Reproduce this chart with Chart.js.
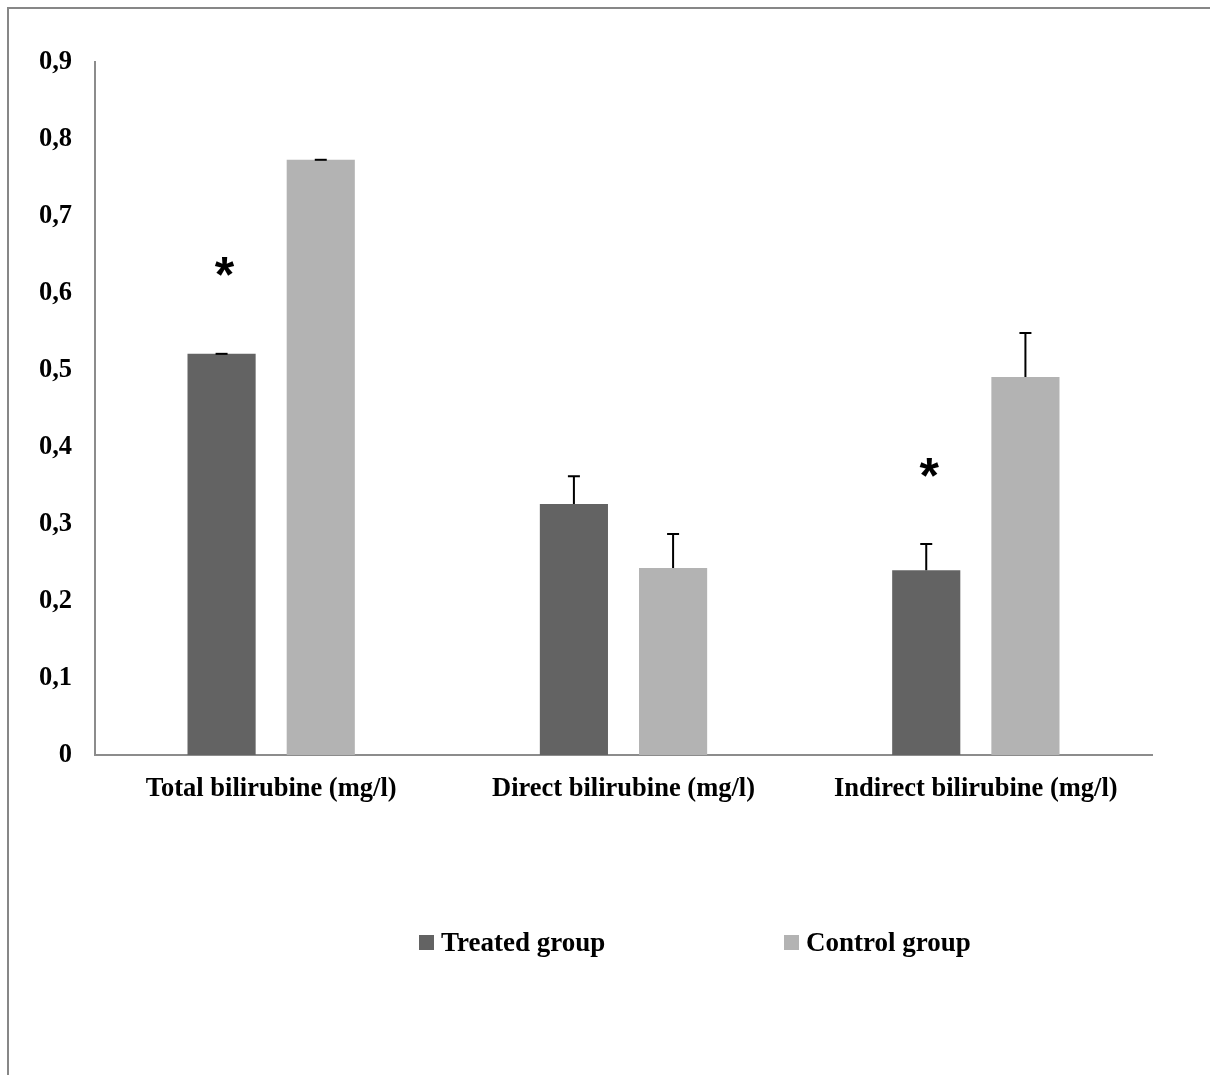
<!DOCTYPE html>
<html>
<head>
<meta charset="utf-8">
<script src="https://cdn.jsdelivr.net/npm/chart.js@4.4.1/dist/chart.umd.min.js"></script>
<style>
  html, body { margin: 0; padding: 0; background: #fff; overflow: hidden; }
  #wrap { position: relative; width: 1210px; height: 1075px; }
  #frame {
    position: absolute; left: 7px; top: 7px; width: 1400px; height: 1400px;
    border-top: 2px solid #878787; border-left: 2px solid #878787;
    pointer-events: none;
  }
</style>
</head>
<body>
<div id="wrap">
  <canvas id="chart" width="1210" height="1075"></canvas>
  <div id="frame"></div>
</div>
<script>
// values
const categories = ['Total bilirubine (mg/l)', 'Direct bilirubine (mg/l)', 'Indirect bilirubine (mg/l)']
const seriesNames = ['Treated group', 'Control group']
const treatedValues = [0.521, 0.326, 0.240]
const controlValues = [0.773, 0.243, 0.491]
const treatedErrors = [0, 0.036, 0.034]
const controlErrors = [0, 0.044, 0.057]
// where the "*" marks sit (treated bars only)
const starLevels = [0.634, null, 0.374]

const treatedColor = '#636363'
const controlColor = '#b3b3b3'
const fontFamily = '"Liberation Serif", "Times New Roman", serif'

const errorBars = {
  id: 'errorBars',
  afterDatasetsDraw(chart) {
    const ctx = chart.ctx
    const y = chart.scales.y
    const errs = [treatedErrors, controlErrors]
    ctx.save()
    ctx.strokeStyle = '#000'
    ctx.lineWidth = 2
    chart.data.datasets.forEach((ds, i) => {
      const meta = chart.getDatasetMeta(i)
      meta.data.forEach((bar, j) => {
        const top = y.getPixelForValue(ds.data[j])
        const end = y.getPixelForValue(ds.data[j] + errs[i][j])
        ctx.beginPath()
        ctx.moveTo(bar.x, top)
        ctx.lineTo(bar.x, end)
        ctx.moveTo(bar.x - 6, end)
        ctx.lineTo(bar.x + 6, end)
        ctx.stroke()
      })
    })
    // significance stars
    ctx.fillStyle = '#000'
    ctx.font = 'bold 50px "Liberation Sans", Arial, sans-serif'
    ctx.textAlign = 'center'
    ctx.textBaseline = 'alphabetic'
    const m = ctx.measureText('*')
    const mid = (m.actualBoundingBoxAscent - m.actualBoundingBoxDescent) / 2
    const meta0 = chart.getDatasetMeta(0)
    starLevels.forEach((v, j) => {
      if (v == null) return
      ctx.fillText('*', meta0.data[j].x + 3, y.getPixelForValue(v) + mid)
    })
    ctx.restore()
  }
}

const legendBoxes = {
  id: 'legendBoxes',
  afterDraw(chart) {
    const ctx = chart.ctx
    const spots = [419, 784]
    const rowY = 943
    ctx.save()
    ctx.font = 'bold 27px ' + fontFamily
    ctx.textBaseline = 'middle'
    ctx.textAlign = 'left'
    chart.data.datasets.forEach((ds, i) => {
      ctx.fillStyle = ds.backgroundColor
      ctx.fillRect(spots[i], rowY - 8, 15, 15)
      ctx.fillStyle = '#000'
      ctx.fillText(ds.label, spots[i] + 22, rowY + 1)
    })
    ctx.restore()
  }
}

const config = {
  type: 'bar',
  data: {
    labels: categories,
    datasets: [{
      label: seriesNames[0],
      data: treatedValues,
      backgroundColor: treatedColor,
      categoryPercentage: 0.563,
      barPercentage: 0.687
    }, {
      label: seriesNames[1],
      data: controlValues,
      backgroundColor: controlColor,
      categoryPercentage: 0.563,
      barPercentage: 0.687
    }]
  },
  options: {
    responsive: false,
    animation: false,
    layout: { padding: { top: 62, right: 58, left: 0, bottom: 0 } },
    plugins: {
      legend: { display: false },
      tooltip: { enabled: false }
    },
    scales: {
      x: {
        grid: { display: false },
        border: { display: true, color: '#8c8c8c', width: 2 },
        ticks: {
          color: '#000',
          font: { family: fontFamily, size: 26.5, weight: 'bold' },
          padding: 10,
          maxRotation: 0,
          autoSkip: false
        },
        afterFit(scale) { scale.height = 1075 - 755 }
      },
      y: {
        min: 0,
        max: 0.9,
        grid: { display: false },
        border: { display: true, color: '#8c8c8c', width: 2 },
        ticks: {
          stepSize: 0.1,
          color: '#000',
          padding: 15,
          font: { family: fontFamily, size: 26.5, weight: 'bold' },
          callback: (v) => v === 0 ? '0' : v.toFixed(1).replace('.', ',')
        },
        afterFit(scale) { scale.width = 95 }
      }
    }
  },
  plugins: [errorBars, legendBoxes]
}

new Chart(document.getElementById('chart').getContext('2d'), config)
</script>
</body>
</html>
